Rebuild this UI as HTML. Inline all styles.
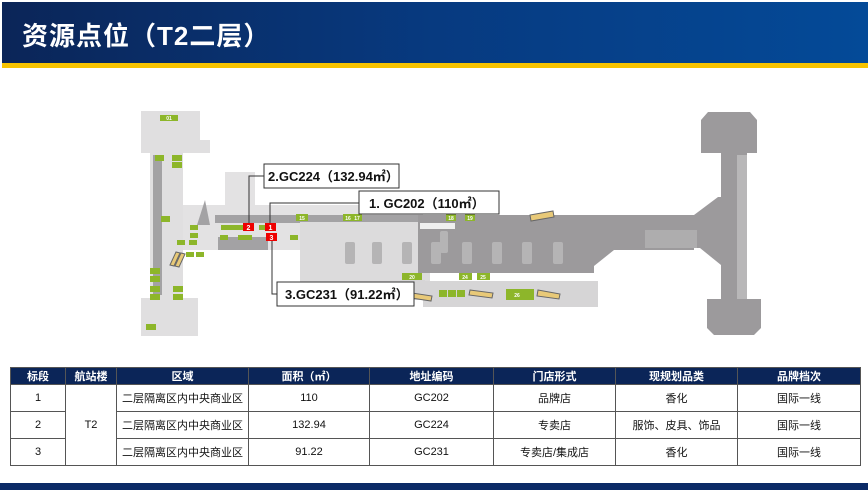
<!DOCTYPE html>
<html><head><meta charset="utf-8"><style>
body{margin:0;width:868px;height:490px;overflow:hidden;background:#fff;font-family:"Liberation Sans","Noto Sans CJK SC",sans-serif;position:relative}
.hdr{position:absolute;left:2px;top:2px;width:866px;height:61px;background:linear-gradient(90deg,#0b2558,#073a80 50%,#044a98)}
.hdr span{position:absolute;left:20px;top:14px;color:#fff;font-size:26px;font-weight:bold;letter-spacing:1px}
.yl{position:absolute;left:2px;top:63px;width:866px;height:5px;background:#f7c300}
.bot{position:absolute;left:0;top:483px;width:868px;height:7px;background:#0b2a66}
table{position:absolute;left:10px;top:367px;border-collapse:collapse;font-size:11px;color:#111}
td,th{border:1px solid #555;text-align:center;padding:0;height:26px}
th{background:#0b2558;color:#fff;height:14px;font-weight:bold;font-size:11px}
</style></head><body>
<div class="hdr"><span>资源点位（T2二层）</span></div><div class="yl"></div>
<svg width="868" height="490" style="position:absolute;left:0;top:0" font-family="Liberation Sans,sans-serif">
<!-- left structure -->
<rect x="141" y="111" width="59" height="42" fill="#e0dfe0"/>
<rect x="200" y="140" width="10" height="13" fill="#e0dfe0"/>
<rect x="150" y="153" width="33" height="147" fill="#e0dfe0"/>
<rect x="153" y="155" width="9" height="140" fill="#a3a2a4"/>
<rect x="141" y="298" width="57" height="38" fill="#e0dfe0"/>
<rect x="183" y="205" width="240" height="45" fill="#e3e2e3"/>
<rect x="225" y="172" width="30" height="33" fill="#e3e2e3"/>
<rect x="215" y="215" width="205" height="8" fill="#a3a2a4"/>
<rect x="218" y="237" width="50" height="13" fill="#a3a2a4"/>
<polygon points="197,225 205,200 210,225" fill="#a3a2a4"/>
<rect x="300" y="222" width="130" height="75" fill="#dcdbdc"/>
<!-- main corridor -->
<rect x="418" y="215" width="176" height="58" fill="#9c9a9c"/>
<rect x="420" y="223" width="35" height="6" fill="#efefef"/>
<rect x="594" y="215" width="100" height="35" fill="#9c9a9c"/>
<polygon points="594,250 614,250 594,266" fill="#9c9a9c"/>
<polygon points="694,215 718,197 747,197 747,300 721,300 721,265 700,248 694,248" fill="#9c9a9c"/>
<rect x="721" y="153" width="26" height="150" fill="#9c9a9c"/>
<rect x="737" y="155" width="10" height="145" fill="#b8b7b8"/>
<polygon points="708,112 750,112 757,120 757,153 701,153 701,120" fill="#9c9a9c"/>
<polygon points="707,299 761,299 761,328 754,335 714,335 707,328" fill="#9c9a9c"/>
<rect x="645" y="230" width="52" height="18" fill="#aeadae"/>
<rect x="440" y="231" width="8" height="22" rx="2" fill="#b5b4b5"/><rect x="402" y="242" width="10" height="22" rx="2" fill="#b5b4b5"/>
<rect x="345" y="242" width="10" height="22" rx="2" fill="#b5b4b5"/><rect x="372" y="242" width="10" height="22" rx="2" fill="#b5b4b5"/>
<rect x="431" y="242" width="10" height="22" rx="2" fill="#b5b4b5"/><rect x="462" y="242" width="10" height="22" rx="2" fill="#b5b4b5"/>
<rect x="492" y="242" width="10" height="22" rx="2" fill="#b5b4b5"/><rect x="522" y="242" width="10" height="22" rx="2" fill="#b5b4b5"/><rect x="553" y="242" width="10" height="22" rx="2" fill="#b5b4b5"/>
<rect x="423" y="281" width="175" height="26" fill="#d6d5d6"/>
<rect x="400" y="280" width="25" height="20" fill="#d6d5d6"/>
<!-- escalators -->
<g fill="#e8c978" stroke="#666" stroke-width="1">
<polygon points="530,215 553,211 554,217 531,221"/><polygon points="412,293 432,296 431,301 411,298"/>
<polygon points="470,290 493,293 492,298 469,295"/><polygon points="538,290 560,294 559,299 537,296"/>
<polygon points="170,265 176,252 180,253 174,266"/><polygon points="175,266 181,253 185,254 179,267"/>
</g>
<!-- green labels -->
<g fill="#8db62a" font-size="5" text-anchor="middle">
<rect x="160" y="115" width="18" height="6"/><rect x="155" y="155" width="9" height="6"/><rect x="172" y="155" width="10" height="6"/><rect x="172" y="162" width="10" height="6"/>
<rect x="161" y="216" width="9" height="6"/><rect x="190" y="225" width="8" height="5"/><rect x="190" y="233" width="8" height="5"/><rect x="189" y="240" width="8" height="5"/><rect x="177" y="240" width="8" height="5"/>
<rect x="186" y="252" width="8" height="5"/><rect x="196" y="252" width="8" height="5"/>
<rect x="150" y="268" width="10" height="6"/><rect x="150" y="276" width="10" height="6"/><rect x="150" y="286" width="10" height="6"/><rect x="150" y="294" width="10" height="6"/>
<rect x="173" y="286" width="10" height="6"/><rect x="173" y="294" width="10" height="6"/><rect x="146" y="324" width="10" height="6"/>
<rect x="221" y="225" width="8" height="5"/><rect x="229" y="225" width="8" height="5"/><rect x="237" y="225" width="8" height="5"/>
<rect x="259" y="225" width="6" height="5"/><rect x="265" y="225" width="5" height="5"/>
<rect x="220" y="235" width="8" height="5"/><rect x="238" y="235" width="7" height="5"/><rect x="245" y="235" width="7" height="5"/>
<rect x="290" y="235" width="8" height="5"/><rect x="296" y="214" width="12" height="7"/>
<rect x="343" y="214" width="10" height="7"/><rect x="353" y="214" width="9" height="7"/>
<rect x="446" y="214" width="10" height="7"/><rect x="465" y="214" width="10" height="7"/>
<rect x="402" y="273" width="20" height="7"/><rect x="459" y="273" width="13" height="7"/><rect x="477" y="273" width="13" height="7"/>
<rect x="439" y="290" width="8" height="7"/><rect x="448" y="290" width="8" height="7"/><rect x="457" y="290" width="8" height="7"/>
<rect x="506" y="289" width="28" height="11"/>
</g>
<g fill="#fff" font-size="5" font-weight="bold" text-anchor="middle">
<text x="169" y="120">01</text><text x="517" y="297">26</text><text x="412" y="279">20</text><text x="465" y="279">24</text><text x="483" y="279">25</text>
<text x="302" y="220">15</text><text x="348" y="220">16</text><text x="357" y="220">17</text><text x="451" y="220">18</text><text x="470" y="220">19</text>
</g>
<!-- red markers -->
<rect x="243" y="223" width="11" height="8" fill="#e00"/><text x="248.5" y="230" fill="#fff" font-size="7" font-weight="bold" text-anchor="middle">2</text>
<rect x="265" y="223" width="11" height="8" fill="#e00"/><text x="270.5" y="230" fill="#fff" font-size="7" font-weight="bold" text-anchor="middle">1</text>
<rect x="266" y="233" width="11" height="8" fill="#e00"/><text x="271.5" y="240" fill="#fff" font-size="7" font-weight="bold" text-anchor="middle">3</text>
<!-- leader lines -->
<g stroke="#333" fill="none" stroke-width="1">
<polyline points="249,223 249,176 264,176"/><polyline points="270,223 270,203 359,203"/><polyline points="272,241 272,294 277,294"/>
</g>
<g fill="#fff" stroke="#333" stroke-width="1">
<rect x="264" y="164" width="135" height="24"/><rect x="359" y="191" width="140" height="23"/><rect x="277" y="282" width="137" height="24"/>
</g>
<g font-size="13" font-weight="bold" fill="#111" font-family="Liberation Sans,Noto Sans CJK SC,sans-serif">
<text x="268" y="181">2.GC224（132.94㎡）</text><text x="369" y="208">1. GC202（110㎡）</text><text x="285" y="299">3.GC231（91.22㎡）</text>
</g>
</svg>
<table>
<tr><th style="width:54px">标段</th><th style="width:50px">航站楼</th><th style="width:131px">区域</th><th style="width:120px">面积（㎡）</th><th style="width:123px">地址编码</th><th style="width:121px">门店形式</th><th style="width:121px">现规划品类</th><th style="width:122px">品牌档次</th></tr>
<tr><td>1</td><td rowspan="3">T2</td><td>二层隔离区内中央商业区</td><td>110</td><td>GC202</td><td>品牌店</td><td>香化</td><td>国际一线</td></tr>
<tr><td>2</td><td>二层隔离区内中央商业区</td><td>132.94</td><td>GC224</td><td>专卖店</td><td>服饰、皮具、饰品</td><td>国际一线</td></tr>
<tr><td>3</td><td>二层隔离区内中央商业区</td><td>91.22</td><td>GC231</td><td>专卖店/集成店</td><td>香化</td><td>国际一线</td></tr>
</table>
<div class="bot"></div>
</body></html>
